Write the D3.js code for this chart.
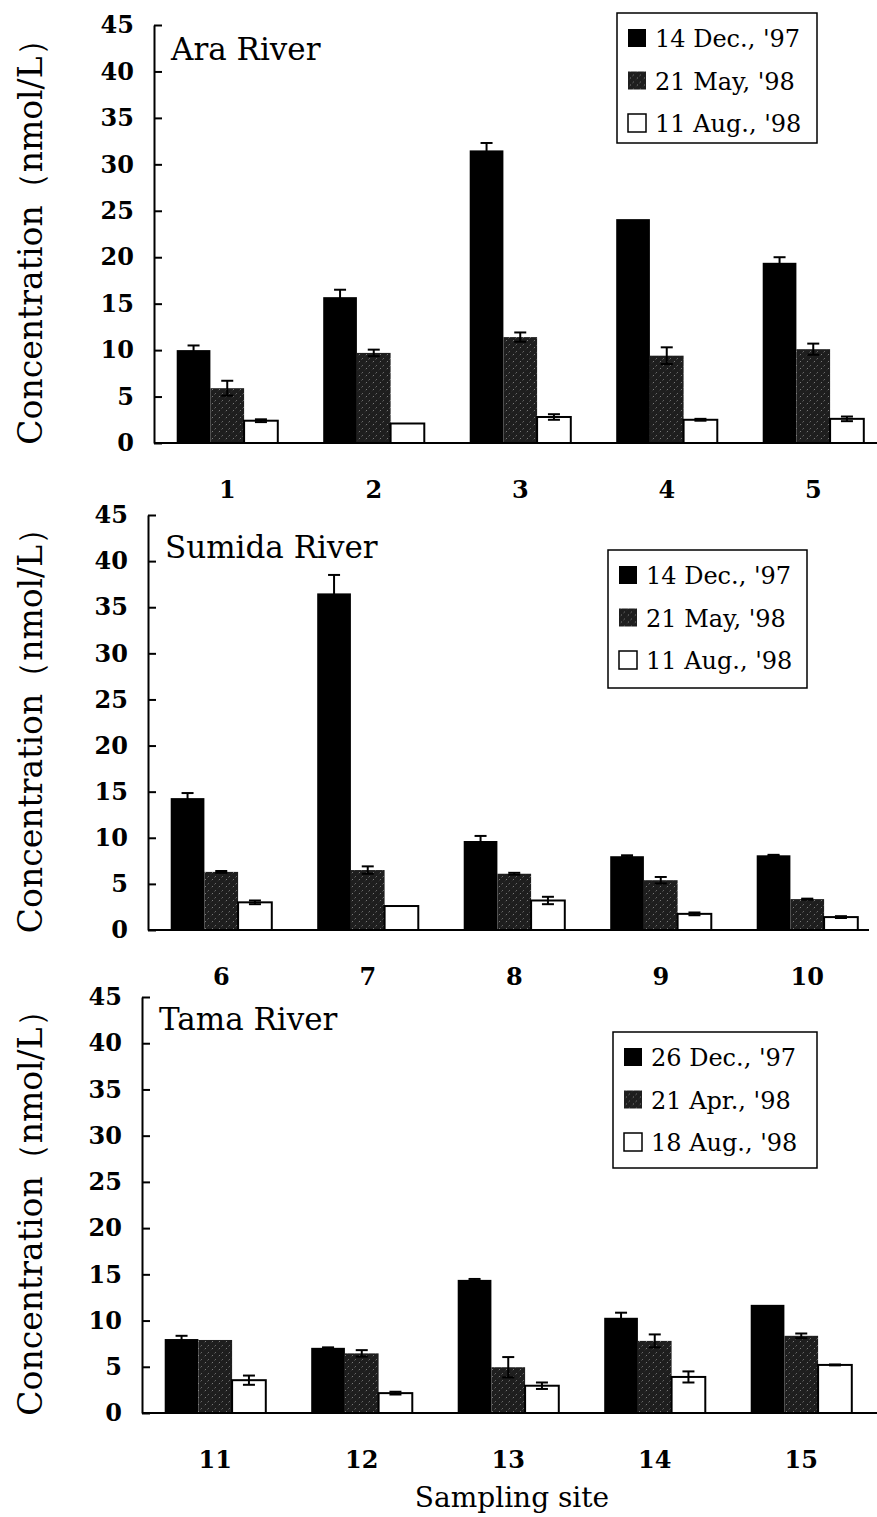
<!DOCTYPE html>
<html>
<head>
<meta charset="utf-8">
<script src="https://cdn.jsdelivr.net/npm/d3@7"></script>
<style>
  body { margin: 0; background: #fff; }
  text { font-family: "DejaVu Serif", "Liberation Serif", serif; fill: #000; }
</style>
</head>
<body>
<svg id="chart"></svg>
<script>
const svgWidth = 877;
const svgHeight = 1517;

// data
const rivers = ["Ara River", "Sumida River", "Tama River"];
const siteLabels = [
    ["1", "2", "3", "4", "5"],
    ["6", "7", "8", "9", "10"],
    ["11", "12", "13", "14", "15"]
];
const legendLabels = [
    ["14 Dec., '97", "21 May, '98", "11 Aug., '98"],
    ["14 Dec., '97", "21 May, '98", "11 Aug., '98"],
    ["26 Dec., '97", "21 Apr., '98", "18 Aug., '98"]
];
// rows: winter, spring, summer sampling
const araValues = [
    [10.0, 15.7, 31.5, 24.1, 19.4],
    [5.9, 9.7, 11.4, 9.4, 10.1],
    [2.4, 2.1, 2.8, 2.5, 2.6]
];
const araErrors = [
    [0.5, 0.8, 0.8, 0, 0.6],
    [0.8, 0.35, 0.5, 0.9, 0.6],
    [0.15, 0, 0.3, 0.1, 0.25]
];
const sumidaValues = [
    [14.3, 36.5, 9.65, 8.0, 8.1],
    [6.3, 6.5, 6.1, 5.4, 3.35],
    [3.0, 2.6, 3.2, 1.75, 1.4]
];
const sumidaErrors = [
    [0.55, 2.0, 0.55, 0.1, 0.05],
    [0.1, 0.4, 0.1, 0.35, 0.05],
    [0.2, 0, 0.4, 0.15, 0.1]
];
const tamaValues = [
    [8.0, 7.05, 14.4, 10.3, 11.7],
    [7.9, 6.45, 4.95, 7.8, 8.35],
    [3.55, 2.15, 2.95, 3.9, 5.2]
];
const tamaErrors = [
    [0.35, 0.05, 0.1, 0.55, 0],
    [0, 0.35, 1.1, 0.7, 0.25],
    [0.5, 0.15, 0.35, 0.6, 0.05]
];
const yTicks = [0, 5, 10, 15, 20, 25, 30, 35, 40, 45];

// panel placement (pixels)
const layout = [
    { axisX: 154, y0: 443, yTop: 25, xEnd: 877, titleY: 60, legend: [617, 13, 200, 130] },
    { axisX: 148, y0: 930, yTop: 515, xEnd: 869, titleY: 558, legend: [608, 550, 199, 138] },
    { axisX: 142, y0: 1413, yTop: 997, xEnd: 877, titleY: 1030, legend: [613, 1032, 204, 136] }
];
const allValues = [araValues, sumidaValues, tamaValues];
const allErrors = [araErrors, sumidaErrors, tamaErrors];

const svg = d3.select("#chart")
    .attr("width", svgWidth)
    .attr("height", svgHeight);

// speckled hatch for the middle series
const defs = svg.append("defs");
const pat = defs.append("pattern")
    .attr("id", "hatch")
    .attr("patternUnits", "userSpaceOnUse")
    .attr("width", 7)
    .attr("height", 7);
pat.append("rect").attr("width", 7).attr("height", 7).attr("fill", "#1e1e1e");
pat.append("path")
    .attr("d", "M-1,8 L8,-1")
    .attr("stroke", "#a0a0a0")
    .attr("stroke-width", 0.8)
    .attr("stroke-dasharray", "1.5,2.5");

const fills = ["#000", "url(#hatch)", "#fff"];

rivers.forEach((river, p) => {
    const L = layout[p];
    const g = svg.append("g");

    const x = d3.scaleBand()
        .domain(siteLabels[p])
        .range([L.axisX, L.axisX + 5 * 146.5])
        .paddingInner(0.31)
        .paddingOuter(0.155);

    const x1 = d3.scaleBand()
        .domain([0, 1, 2])
        .range([0, x.bandwidth()]);

    const y = d3.scaleLinear()
        .domain([0, 45])
        .range([L.y0, L.yTop]);

    // bars
    const bars = [];
    siteLabels[p].forEach((s, i) => {
        for (let k = 0; k < 3; k++) {
            bars.push({ site: s, k: k, v: allValues[p][k][i], e: allErrors[p][k][i] });
        }
    });

    g.selectAll("rect.bar")
        .data(bars)
        .enter().append("rect")
        .attr("class", "bar")
        .attr("x", d => x(d.site) + x1(d.k))
        .attr("y", d => y(d.v))
        .attr("width", x1.bandwidth())
        .attr("height", d => y(0) - y(d.v))
        .attr("fill", d => fills[d.k])
        .attr("stroke", d => d.k === 2 ? "#000" : "none")
        .attr("stroke-width", 2);

    // error bars
    const errs = g.selectAll("g.err")
        .data(bars.filter(d => d.e > 0))
        .enter().append("g")
        .attr("class", "err")
        .attr("stroke", "#000")
        .attr("stroke-width", 2);

    const cx = d => x(d.site) + x1(d.k) + x1.bandwidth() / 2;
    errs.append("line")
        .attr("x1", cx).attr("x2", cx)
        .attr("y1", d => y(d.v - d.e))
        .attr("y2", d => y(d.v + d.e));
    errs.append("line")
        .attr("x1", d => cx(d) - 6).attr("x2", d => cx(d) + 6)
        .attr("y1", d => y(d.v + d.e))
        .attr("y2", d => y(d.v + d.e));
    errs.append("line")
        .attr("x1", d => cx(d) - 6).attr("x2", d => cx(d) + 6)
        .attr("y1", d => y(d.v - d.e))
        .attr("y2", d => y(d.v - d.e));

    // y axis, ticks point inward
    const yAxis = g.append("g")
        .attr("transform", `translate(${L.axisX},0)`)
        .call(d3.axisLeft(y).tickValues(yTicks).tickSizeInner(-8).tickSizeOuter(0).tickPadding(20));
    yAxis.selectAll("path, line").attr("stroke", "#000").attr("stroke-width", 2);
    yAxis.selectAll("text")
        .style("font-family", "'DejaVu Serif', serif")
        .style("font-weight", "bold")
        .style("font-size", "24px");

    // baseline
    g.append("line")
        .attr("x1", L.axisX).attr("x2", L.xEnd)
        .attr("y1", y(0)).attr("y2", y(0))
        .attr("stroke", "#000").attr("stroke-width", 2);

    // site labels
    g.selectAll("text.site")
        .data(siteLabels[p])
        .enter().append("text")
        .attr("class", "site")
        .attr("x", d => x(d) + x.bandwidth() / 2)
        .attr("y", y(0) + 55)
        .attr("text-anchor", "middle")
        .style("font-weight", "bold")
        .style("font-size", "24px")
        .text(d => d);

    // river name
    g.append("text")
        .attr("x", L.axisX + 17)
        .attr("y", L.titleY)
        .style("font-size", "31px")
        .text(river);

    // y title
    g.append("text")
        .attr("transform", `translate(42,${(L.y0 + L.yTop) / 2})`+ " rotate(-90)")
        .attr("text-anchor", "middle")
        .style("font-size", "33px")
        .text("Concentration（nmol/L）");

    // legend
    const [lx, ly, lw, lh] = L.legend;
    const leg = g.append("g").attr("transform", `translate(${lx},${ly})`);
    leg.append("rect")
        .attr("width", lw).attr("height", lh)
        .attr("fill", "#fff").attr("stroke", "#000").attr("stroke-width", 1.5);
    const rows = leg.selectAll("g.row")
        .data(legendLabels[p])
        .enter().append("g")
        .attr("class", "row")
        .attr("transform", (d, i) => `translate(11,${25 + i * 42.5})`);
    rows.append("rect")
        .attr("x", 0).attr("y", -9)
        .attr("width", 18).attr("height", 18)
        .attr("fill", (d, i) => fills[i])
        .attr("stroke", "#000")
        .attr("stroke-width", (d, i) => i === 2 ? 1.5 : 0);
    rows.append("text")
        .attr("x", 27)
        .attr("y", 9)
        .style("font-size", "24px")
        .text(d => d);
});

// x title
svg.append("text")
    .attr("x", 512)
    .attr("y", 1507)
    .attr("text-anchor", "middle")
    .style("font-size", "28px")
    .text("Sampling site");
</script>
</body>
</html>
